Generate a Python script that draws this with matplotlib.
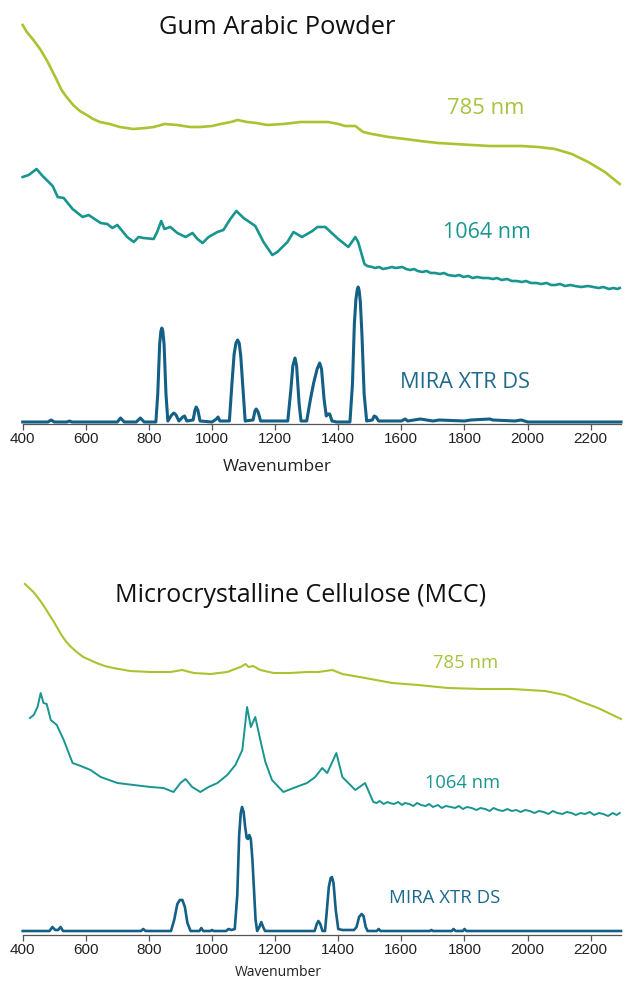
import matplotlib
matplotlib.use("Agg")
import matplotlib.pyplot as plt

# ---------------- data ----------------
# Panel 1: Gum Arabic Powder  (wavenumber, relative intensity with offsets)
gum_785_w = [400, 413, 434, 455, 476, 492, 508, 523, 539, 560, 581, 603, 623, 645, 676, 708, 750, 790,
             815, 850, 890, 930, 963, 1000, 1027, 1060, 1081, 1111, 1140, 1175, 1226, 1280, 1343,
             1368, 1400, 1422, 1454, 1479, 1507, 1560, 1612, 1660, 1716, 1770, 1824, 1880, 1929,
             1980, 2033, 2087, 2140, 2192, 2245, 2292]
gum_785_i = [399, 392, 384, 375, 364, 354, 344, 334, 327, 319, 313, 309, 305, 302, 300, 297, 295, 296,
             297, 300, 299, 297, 297, 298, 300, 302, 304, 302, 301, 299, 300, 302, 302,
             302, 300, 298, 298, 292, 290, 287, 285, 283, 281, 280, 279, 278, 278,
             278, 277, 275, 270, 262, 252, 240]

gum_1064_w = [400, 419, 444, 463, 495, 511, 530, 558, 590, 609, 647, 668, 684, 700, 731, 752, 767, 783,
              815, 826, 839, 849, 868, 890, 916, 938, 954, 970, 989, 1017, 1036, 1058, 1077, 1100,
              1137, 1163, 1191, 1207, 1239, 1258, 1285, 1318, 1334, 1359, 1400, 1432, 1454, 1463,
              1483, 1492, 1507, 1516, 1530, 1541, 1558, 1570, 1582, 1603, 1615, 1628, 1640, 1652,
              1666, 1680, 1693, 1707, 1722, 1735, 1748, 1770, 1783, 1797, 1812, 1826, 1840, 1857,
              1875, 1890, 1903, 1918, 1935, 1950, 1966, 1982, 1995, 2010, 2028, 2043, 2060, 2075,
              2087, 2103, 2118, 2135, 2150, 2170, 2192, 2208, 2225, 2240, 2258, 2272, 2285, 2292]
gum_1064_i = [247, 249, 255, 248, 238, 227, 226, 215, 207, 209, 201, 200, 196, 199, 187, 182, 187, 186,
              185, 192, 203, 195, 197, 191, 187, 191, 185, 181, 187, 192, 194, 205, 213, 206,
              198, 182, 169, 172, 182, 192, 187, 193, 197, 197, 185, 177, 187, 182,
              160, 158, 157, 156, 157, 155, 156, 157, 156, 157, 155, 154, 155, 153,
              152, 153, 151, 151, 150, 151, 149, 148, 149, 147, 148, 146, 147, 146,
              146, 145, 146, 144, 145, 143, 143, 142, 143, 141, 141, 140, 141, 139,
              139, 140, 138, 139, 138, 137, 138, 137, 136, 137, 135, 136, 135, 136]

gum_mira_w = [400, 480, 490, 500, 540, 548, 556, 700, 710, 722, 760, 773, 785, 822, 828, 834, 838, 841,
              844, 848, 854, 860, 872, 879, 886, 895, 907, 913, 920, 940, 946, 950, 955, 962, 1000,
              1014, 1019, 1025, 1055, 1063, 1070, 1076, 1081, 1086, 1091, 1097, 1105, 1130, 1136,
              1140, 1146, 1154, 1240, 1250, 1256, 1263, 1268, 1276, 1282, 1300, 1312, 1322, 1333,
              1341, 1347, 1355, 1362, 1368, 1373, 1380, 1395, 1437, 1445, 1451, 1456, 1460, 1463,
              1466, 1470, 1475, 1482, 1490, 1508, 1514, 1520, 1528, 1600, 1612, 1620, 1640, 1660,
              1680, 1700, 1720, 1800, 1820, 1880, 1890, 1960, 1980, 2000, 2296]
gum_mira_i = [2, 2, 4, 2, 2, 3, 2, 2, 6, 2, 2, 6, 2, 2, 30, 80, 93, 96,
              93, 80, 30, 3, 9, 11, 9, 3, 7, 8, 3, 4, 14, 17, 14, 3, 2,
              5, 7, 3, 3, 40, 70, 81, 84, 81, 68, 40, 3, 4, 13,
              15, 12, 3, 3, 35, 58, 66, 58, 20, 3, 3, 25, 41, 55,
              61, 55, 25, 8, 10, 10, 3, 2, 2, 40, 100, 125, 134, 137,
              134, 122, 90, 30, 3, 4, 8, 7, 3, 3, 5, 3, 4, 5,
              4, 3, 4, 3, 4, 5, 4, 3, 4, 2, 2]

# Panel 2: Microcrystalline Cellulose (MCC)
mcc_785_w = [407, 434, 449, 465, 481, 497, 510, 523, 536, 550, 571, 592, 613, 634, 660, 687, 740, 805,
             868, 905, 942, 995, 1048, 1090, 1106, 1116, 1130, 1153, 1195, 1248, 1301, 1337, 1381,
             1413, 1485, 1571, 1653, 1748, 1856, 1951, 2055, 2118, 2172, 2223, 2296]
mcc_785_i = [351, 343, 337, 330, 322, 314, 307, 300, 294, 289, 283, 278, 275, 272, 269, 267, 264, 263,
             263, 265, 262, 261, 263, 268, 271, 268, 269, 265, 262, 262, 263, 263, 265,
             261, 257, 252, 250, 247, 246, 246, 244, 240, 233, 227, 216]

mcc_1064_w = [423, 435, 447, 457, 466, 476, 489, 508, 530, 558, 584, 615, 647, 700, 752, 805, 846, 878,
              900, 916, 937, 963, 989, 1017, 1048, 1074, 1096, 1111, 1123, 1137, 1153, 1169, 1190,
              1226, 1258, 1301, 1327, 1349, 1365, 1394, 1413, 1454, 1485, 1511, 1522, 1531, 1544,
              1556, 1563, 1577, 1590, 1602, 1611, 1625, 1638, 1650, 1662, 1677, 1688, 1700, 1716,
              1728, 1741, 1757, 1770, 1782, 1795, 1808, 1823, 1838, 1851, 1866, 1880, 1892, 1907,
              1921, 1936, 1950, 1964, 1978, 1992, 2007, 2022, 2036, 2051, 2066, 2080, 2095, 2110,
              2124, 2139, 2153, 2168, 2182, 2197, 2211, 2226, 2240, 2255, 2270, 2282, 2292]
mcc_1064_i = [217, 220, 228, 242, 232, 231, 215, 210, 195, 172, 169, 165, 158, 152, 150, 148, 147, 143,
              152, 156, 148, 143, 148, 152, 160, 170, 185, 228, 208, 218, 195, 173, 155,
              143, 147, 152, 158, 167, 162, 182, 158, 145, 152, 133, 132, 134, 131,
              133, 132, 131, 133, 130, 132, 131, 129, 132, 130, 129, 131, 128, 130,
              127, 129, 128, 127, 129, 126, 128, 127, 125, 127, 126, 124, 127, 125,
              124, 126, 124, 125, 123, 125, 124, 122, 124, 123, 121, 124, 122, 121,
              123, 122, 120, 122, 121, 123, 120, 122, 121, 119, 122, 120, 122]

mcc_mira_w = [400, 485, 494, 503, 512, 520, 528, 775, 782, 789, 870, 880, 890, 898, 906, 914, 922, 932,
              960, 966, 972, 995, 1000, 1005, 1045, 1052, 1062, 1072, 1080, 1086, 1091, 1095, 1100,
              1105, 1110, 1114, 1118, 1123, 1128, 1133, 1138, 1143, 1150, 1156, 1162, 1168, 1325,
              1332, 1337, 1343, 1350, 1358, 1364, 1370, 1376, 1380, 1385, 1392, 1400, 1413, 1450,
              1458, 1466, 1474, 1480, 1487, 1493, 1522, 1528, 1534, 1690, 1695, 1700, 1760, 1765,
              1772, 1795, 1800, 1806, 2296]
mcc_mira_i = [4, 4, 8, 5, 5, 8, 4, 4, 6, 4, 4, 15, 31, 35, 35, 28, 12, 4,
              4, 7, 4, 4, 5, 4, 4, 6, 5, 6, 40, 100, 122, 128, 123,
              108, 97, 96, 100, 96, 75, 45, 15, 4, 8, 13, 8, 4, 4,
              11, 14, 11, 4, 4, 25, 48, 57, 58, 52, 25, 6, 5, 5,
              8, 18, 21, 19, 8, 4, 4, 6, 4, 4, 5, 4, 4, 6,
              4, 4, 6, 4, 4]

tick_vals = [400, 600, 800, 1000, 1200, 1400, 1600, 1800, 2000, 2200]
titles = ["Gum Arabic Powder", "Microcrystalline Cellulose (MCC)"]
series_labels = ["785 nm", "1064 nm", "MIRA XTR DS"]

# ---------------- style ----------------
C785 = "#a8c430"
C1064 = "#18958f"
CMIRA = "#135f86"
T785 = "#a6c43c"
T1064 = "#1a9690"
TMIRA = "#1f6a8c"
FONT = ["Open Sans", "DejaVu Sans"]
TICKFONT = ["Liberation Sans", "DejaVu Sans"]

W, H = 625, 982
fig = plt.figure(figsize=(W / 100, H / 100), dpi=100)

x_left, x_right = 22.7, 621.0


def fx(px):
    return px / W


def fy(py):
    return 1 - py / H


def make_axes(axis_py, top_py):
    ax = fig.add_axes([fx(x_left), fy(axis_py), (x_right - x_left) / W, (axis_py - top_py) / H])
    ax.set_xlim(400, 2296)
    ax.set_ylim(0, axis_py - top_py)
    for s in ["top", "left", "right"]:
        ax.spines[s].set_visible(False)
    ax.spines["bottom"].set_color("#555555")
    ax.spines["bottom"].set_linewidth(0.9)
    ax.set_yticks([])
    ax.set_xticks(tick_vals)
    ax.set_xticklabels([str(v) for v in tick_vals], family=TICKFONT, fontsize=11, color="#222222")
    ax.tick_params(axis="x", direction="out", length=4, width=0.9, color="#555555", pad=2)
    ax.patch.set_alpha(0)
    return ax


# Panel 1
ax1 = make_axes(424, 0)
ax1.plot(gum_785_w, gum_785_i, color=C785, lw=1.9, solid_joinstyle="round", clip_on=False)
ax1.plot(gum_1064_w, gum_1064_i, color=C1064, lw=1.9, solid_joinstyle="round", clip_on=False)
ax1.plot(gum_mira_w, gum_mira_i, color=CMIRA, lw=2.2, solid_joinstyle="round", clip_on=False)

fig.text(fx(277), fy(34), titles[0], ha="center", va="baseline", fontsize=18.4, family=FONT, color="#111111")
fig.text(fx(486), fy(114), series_labels[0], ha="center", va="baseline", fontsize=15.8, family=FONT, color=T785)
fig.text(fx(487), fy(238), series_labels[1], ha="center", va="baseline", fontsize=15.5, family=FONT, color=T1064)
fig.text(fx(465), fy(388), series_labels[2], ha="center", va="baseline", fontsize=15.7, family=FONT, color=TMIRA)
fig.text(fx(277), fy(467), "Wavenumber", ha="center", va="center", fontsize=12.5, family=FONT, color="#222222")

# Panel 2
ax2 = make_axes(935, 570)
ax2.plot(mcc_785_w, mcc_785_i, color=C785, lw=1.5, solid_joinstyle="round", clip_on=False)
ax2.plot(mcc_1064_w, mcc_1064_i, color=C1064, lw=1.4, solid_joinstyle="round", clip_on=False)
ax2.plot(mcc_mira_w, mcc_mira_i, color=CMIRA, lw=1.9, solid_joinstyle="round", clip_on=False)

fig.text(fx(301), fy(602), titles[1], ha="center", va="baseline", fontsize=18, family=FONT, color="#111111")
fig.text(fx(466), fy(668), series_labels[0], ha="center", va="baseline", fontsize=13.3, family=FONT, color=T785)
fig.text(fx(463), fy(788), series_labels[1], ha="center", va="baseline", fontsize=13.2, family=FONT, color=T1064)
fig.text(fx(445), fy(903), series_labels[2], ha="center", va="baseline", fontsize=13.4, family=FONT, color=TMIRA)
fig.text(fx(278), fy(973), "Wavenumber", ha="center", va="center", fontsize=10, family=FONT, color="#222222")

fig.savefig("out.png", dpi=100, facecolor="white")
